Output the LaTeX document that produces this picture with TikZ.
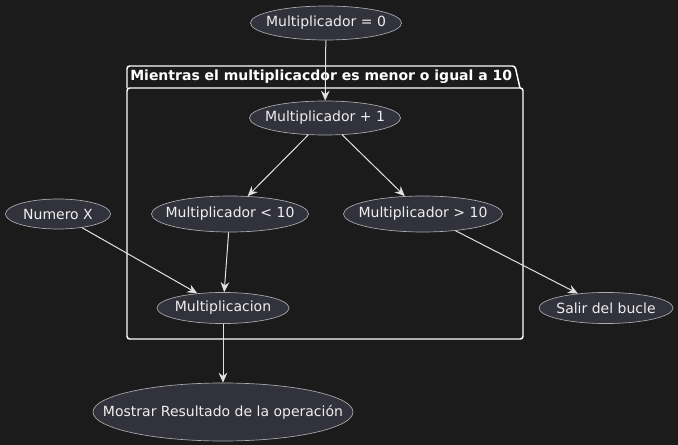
\documentclass[tikz,border=0pt]{standalone}
\usepackage{fontspec}
\setmainfont{DejaVu Sans}
\usepackage{tikz}
\usetikzlibrary{arrows.meta, shapes.geometric, positioning}
\definecolor{bgdark}{RGB}{27, 27, 27}
\definecolor{ucfill}{RGB}{50, 50, 60}
\definecolor{ucline}{RGB}{170, 170, 175}
\definecolor{txtlight}{RGB}{238, 238, 238}
\definecolor{arrline}{RGB}{225, 225, 225}

\begin{document}
\begin{tikzpicture}[x=0.75pt, y=-0.75pt,
                uc/.style={ellipse, draw=ucline, fill=ucfill, line width=0.5pt,
                           inner sep=0pt},
                every label/.style={text=txtlight, inner sep=0pt,
                                    font=\fontsize{10.5}{12}\selectfont},
                flow/.style={draw=arrline, line width=0.75pt,
                             -{Stealth[length=7.5pt, width=6.5pt, inset=2.5pt]}}]
                \fill[bgdark] (0,0) rectangle (678,445);
                \useasboundingbox (0,0) rectangle (678,445);

                % package frame
                \draw[white, line width=1.1pt, rounded corners=2pt]
                      (127,88) -- (127,66) -- (515,66) -- (520,88);
                \draw[white, line width=1.1pt, rounded corners=2pt]
                      (127,88) rectangle (523,339);
                \node[anchor=west, text=white, inner sep=0pt,
                      font=\fontsize{10.5}{12}\selectfont\bfseries]
                      (pkg) at (130,77) {Mientras el multiplicacdor es menor o igual a 10};

                \node[uc, minimum width=113.3pt, minimum height=25.5pt,
                      label=center:{Multiplicador = 0}] (m0) at (326,23) {};
                \node[uc, minimum width=113.3pt, minimum height=25.5pt,
                      label=center:{Multiplicador + 1}] (m1) at (325,118) {};
                \node[uc, minimum width=117.8pt, minimum height=27pt,
                      label=center:{Multiplicador < 10}] (mlt) at (230,214) {};
                \node[uc, minimum width=119.3pt, minimum height=27pt,
                      label=center:{Multiplicador > 10}] (mgt) at (423,214) {};
                \node[uc, minimum width=78.8pt, minimum height=22.5pt,
                      label=center:{Numero X}] (numx) at (58,214) {};
                \node[uc, minimum width=99pt, minimum height=23.3pt,
                      label=center:{Multiplicacion}] (mult) at (223,308) {};
                \node[uc, minimum width=100.5pt, minimum height=23.3pt,
                      label=center:{Salir del bucle}] (exit) at (606,308) {};
                \node[uc, minimum width=195pt, minimum height=43.5pt,
                      label=center:{Mostrar Resultado de la operación}] (show) at (223,412) {};

                \draw[flow] (m0)--(m1);
                \draw[flow] (m1)--(mlt);   \draw[flow] (m1)--(mgt);
                \draw[flow] (mlt)--(mult); \draw[flow] (numx)--(mult);
                \draw[flow] (mgt)--(exit); \draw[flow] (mult)--(show);
            \end{tikzpicture}
\end{document}
